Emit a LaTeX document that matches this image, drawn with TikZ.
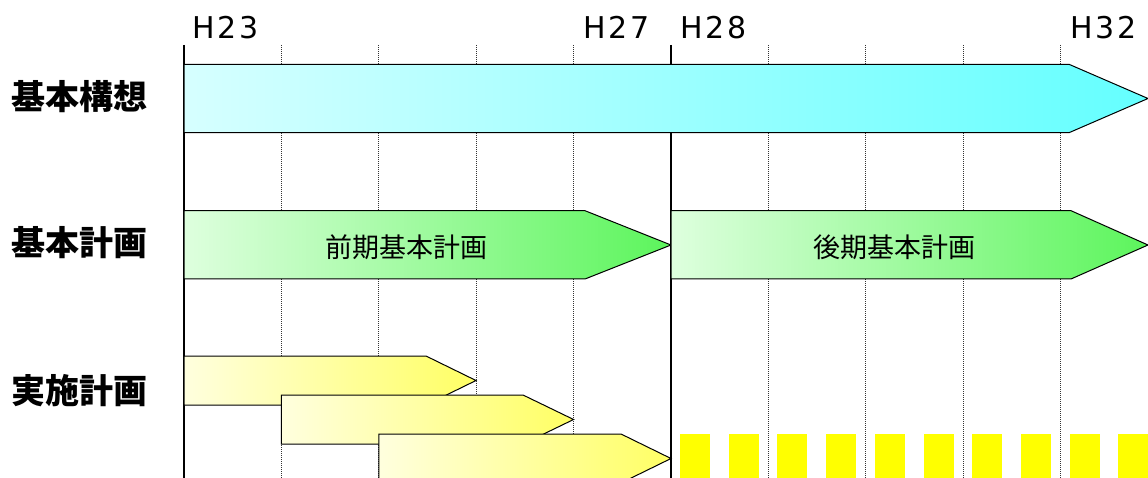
\documentclass[tikz,border=0pt]{standalone}
\usepackage{fontspec}
\setmainfont{Liberation Sans}
\newfontfamily\jp{Noto Sans CJK JP}
\newfontfamily\hfont[LetterSpace=9]{DejaVu Sans}
\definecolor{cyanL}{RGB}{214,255,255}
\definecolor{cyanR}{RGB}{100,255,255}
\definecolor{greenL}{RGB}{222,255,222}
\definecolor{greenR}{RGB}{92,245,92}
\definecolor{yelL}{RGB}{255,255,222}
\definecolor{yelR}{RGB}{255,255,100}
\definecolor{sqyellow}{RGB}{255,255,0}
\tikzset{
  gridsolid/.style={draw=black, line width=1.4pt},
  griddot/.style={draw=black!80, line width=0.8pt, dash pattern=on 1pt off 1pt},
  barline/.style={draw=black, line width=1pt, line join=miter},
  cyanbar/.style={barline, left color=cyanL, right color=cyanR},
  greenbar/.style={barline, left color=greenL, right color=greenR},
  yelbar/.style={barline, left color=yelL, right color=yelR},
  yearlabel/.style={anchor=base west, inner sep=0pt, font=\hfont\fontsize{30}{30}\selectfont},
  rowlabel/.style={anchor=west, inner sep=0pt, font=\jp\bfseries\fontsize{34}{34}\selectfont},
  barlabel/.style={anchor=center, inner sep=0pt, font=\jp\fontsize{27}{27}\selectfont},
  sqbox/.style={fill=sqyellow, draw=none}
}
\begin{document}
\begin{tikzpicture}[x=1pt,y=-1pt]
\useasboundingbox (0,0) rectangle (1148,478);
\clip (0,0) rectangle (1148,478);
% grid lines
\foreach \x in {281.4,378.8,476.2,573.6,768.4,865.8,963.2,1060.6}
  \draw[griddot] (\x,45) -- (\x,478);
\draw[gridsolid] (184,45) -- (184,478);
\draw[gridsolid] (671,45) -- (671,478);
% year labels
\node[yearlabel] (h23) at (192,39) {H23};
\node[yearlabel] (h27) at (583,39) {H27};
\node[yearlabel] (h28) at (680,39) {H28};
\node[yearlabel] (h32) at (1070,39) {H32};
% row 1
\draw[cyanbar] (184,64.3) -- (1069,64.3) -- (1148,98.5) -- (1069,132.7) -- (184,132.7) -- cycle;
% row 2
\draw[greenbar] (184,210.7) -- (585,210.7) -- (671,245) -- (585,279) -- (184,279) -- cycle;
\draw[greenbar] (671,210.7) -- (1071,210.7) -- (1148,245) -- (1071,279) -- (671,279) -- cycle;
% row 3
\draw[yelbar] (184,356) -- (426,356) -- (476,380.5) -- (426,405) -- (184,405) -- cycle;
\draw[yelbar] (281.4,395) -- (523,395) -- (573.6,419.5) -- (523,444) -- (281.4,444) -- cycle;
\draw[yelbar] (378.8,434) -- (621,434) -- (671,458.5) -- (621,483) -- (378.8,483) -- cycle;
% yellow squares
\foreach \i in {0,...,9}
  \fill[sqbox] ({680+48.7*\i},434) rectangle ({710+48.7*\i},480);
% row labels
\node[rowlabel] (r1) at (11,97) {基本構想};
\node[rowlabel] (r2) at (11,243) {基本計画};
\node[rowlabel] (r3) at (11,391) {実施計画};
% bar labels
\node[barlabel] (b1) at (406,247) {前期基本計画};
\node[barlabel] (b2) at (894,247) {後期基本計画};
\end{tikzpicture}
\end{document}
